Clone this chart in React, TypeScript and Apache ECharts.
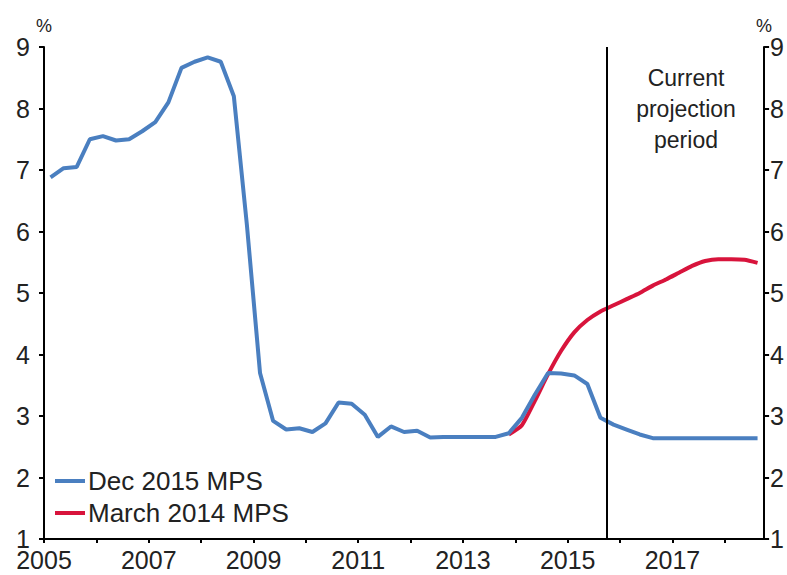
import React, { useEffect, useRef } from "react";
import * as echarts from "echarts";

// Quarterly observation positions (decimal years, mid-quarter)
const blueYears = [
  2005.125, 2005.375, 2005.625, 2005.875,
  2006.125, 2006.375, 2006.625, 2006.875,
  2007.125, 2007.375, 2007.625, 2007.875,
  2008.125, 2008.375, 2008.625, 2008.875,
  2009.125, 2009.375, 2009.625, 2009.875,
  2010.125, 2010.375, 2010.625, 2010.875,
  2011.125, 2011.375, 2011.625, 2011.875,
  2012.125, 2012.375, 2012.625, 2012.875,
  2013.125, 2013.375, 2013.625, 2013.875,
  2014.125, 2014.375, 2014.625, 2014.875,
  2015.125, 2015.375, 2015.625, 2015.875,
  2016.125, 2016.375, 2016.625, 2016.875,
  2017.125, 2017.375, 2017.625, 2017.875,
  2018.125, 2018.375, 2018.625,
];
const dec2015Values = [
  6.88, 7.03, 7.05, 7.5,
  7.55, 7.48, 7.5, 7.63,
  7.78, 8.1, 8.66, 8.76,
  8.83, 8.76, 8.2, 6.1,
  3.7, 2.92, 2.78, 2.8,
  2.74, 2.88, 3.22, 3.2,
  3.02, 2.66, 2.83, 2.74,
  2.76, 2.65, 2.66, 2.66,
  2.66, 2.66, 2.66, 2.72,
  2.97, 3.35, 3.7, 3.69,
  3.66, 3.52, 2.97, 2.86,
  2.78, 2.7, 2.64, 2.64,
  2.64, 2.64, 2.64, 2.64,
  2.64, 2.64, 2.64,
];

const redYears = [
  2013.875, 2014.125, 2014.375, 2014.625, 2014.875,
  2015.125, 2015.375, 2015.625, 2015.875,
  2016.125, 2016.375, 2016.625, 2016.875,
  2017.125, 2017.375, 2017.625, 2017.875,
  2018.125, 2018.375, 2018.625,
];
const march2014Values = [
  2.7, 2.85, 3.25, 3.68, 4.06,
  4.36, 4.56, 4.7, 4.8,
  4.9, 5.0, 5.12, 5.22,
  5.33, 5.44, 5.52, 5.55,
  5.55, 5.54, 5.49,
];

const xTickYears = [2005, 2006, 2007, 2008, 2009, 2010, 2011, 2012, 2013, 2014, 2015, 2016, 2017, 2018];
const xLabelYears = [2005, 2007, 2009, 2011, 2013, 2015, 2017];
const projectionStart = 2015.75;
const seriesNames = ["Dec 2015 MPS", "March 2014 MPS"];
const annotationText = "Current\nprojection\nperiod";

const FONT = "'Liberation Sans', Arial, sans-serif";
const TEXT = "#222";
const BLUE = "#4a7fc0";
const RED = "#d8143c";

export default function App() {
  const ref = useRef<HTMLDivElement>(null);
  useEffect(() => {
    if (!ref.current) return;
    const chart = echarts.init(ref.current, null, { renderer: "svg" });
    const yAxisCommon = {
      type: "value",
      min: 1,
      max: 9,
      interval: 1,
      name: "%",
      nameLocation: "end",
      nameGap: 12,
      nameTextStyle: { fontSize: 18, color: TEXT, fontFamily: FONT },
      axisLine: { show: true, lineStyle: { color: "#000", width: 2 } },
      axisTick: { show: true, length: 5, lineStyle: { color: "#000", width: 2 } },
      splitLine: { show: false },
    };
    chart.setOption({
      animation: false,
      textStyle: { fontFamily: FONT },
      grid: { left: 44, right: 22, top: 47, bottom: 36, containLabel: false },
      legend: {
        orient: "vertical",
        left: 55,
        top: 468,
        padding: 0,
        icon: "rect",
        itemWidth: 30,
        itemHeight: 4,
        itemGap: 6,
        textStyle: { fontSize: 26, color: TEXT, fontFamily: FONT, padding: [0, 0, 0, -2] },
        data: seriesNames,
      },
      xAxis: {
        type: "value",
        min: 2005,
        max: 2018.75,
        interval: 1,
        axisLine: { show: true, onZero: false, lineStyle: { color: "#000", width: 2 } },
        axisTick: {
          show: true,
          length: 4,
          customValues: xTickYears,
          lineStyle: { color: "#000", width: 2 },
        },
        axisLabel: {
          customValues: xLabelYears,
          fontSize: 25,
          color: TEXT,
          margin: 8,
          fontFamily: FONT,
          formatter: (v: number) => String(v),
        },
        splitLine: { show: false },
      },
      yAxis: [
        {
          ...yAxisCommon,
          position: "left",
          axisLabel: { fontSize: 25, color: TEXT, margin: 14, fontFamily: FONT },
        },
        {
          ...yAxisCommon,
          position: "right",
          axisLabel: { fontSize: 25, color: TEXT, margin: 6, fontFamily: FONT },
        },
      ],
      series: [
        {
          name: seriesNames[1],
          type: "line",
          data: redYears.map((x, i) => [x, march2014Values[i]]),
          showSymbol: false,
          symbol: "none",
          smooth: 0.2,
          lineStyle: { color: RED, width: 4 },
          itemStyle: { color: RED },
          z: 2,
        },
        {
          name: seriesNames[0],
          type: "line",
          data: blueYears.map((x, i) => [x, dec2015Values[i]]),
          showSymbol: false,
          symbol: "none",
          lineStyle: { color: BLUE, width: 4 },
          itemStyle: { color: BLUE },
          z: 3,
          markLine: {
            silent: true,
            symbol: "none",
            label: { show: false },
            lineStyle: { color: "#000", width: 2, type: "solid" },
            data: [{ xAxis: projectionStart }],
          },
        },
      ],
      graphic: [
        {
          type: "text",
          x: 686,
          y: 62,
          style: {
            text: annotationText,
            textAlign: "center",
            textVerticalAlign: "top",
            fontSize: 23,
            lineHeight: 31,
            fill: TEXT,
            fontFamily: FONT,
          },
        },
      ],
    });
    return () => chart.dispose();
  }, []);
  return (
    <div
      ref={ref}
      style={{ position: "absolute", left: 0, top: 0, width: 787, height: 575 }}
    />
  );
}
